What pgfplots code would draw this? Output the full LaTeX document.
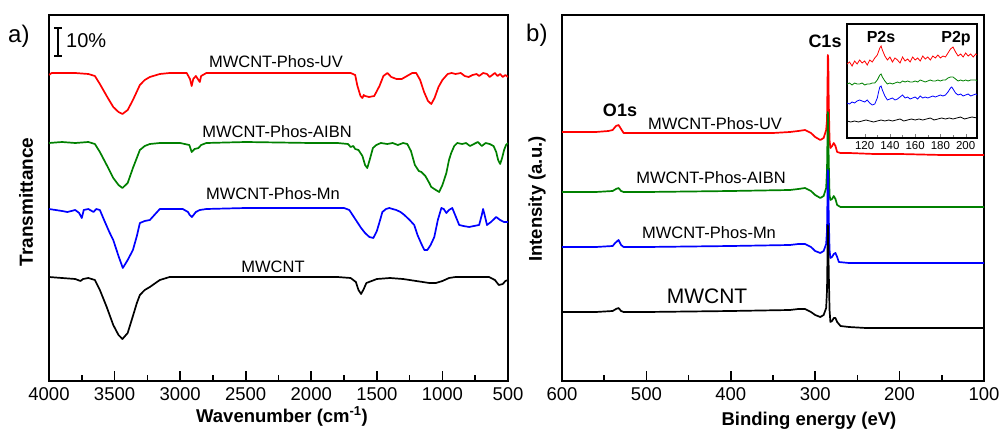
\documentclass[border=0pt]{standalone}
\usepackage{pgfplots}
\pgfplotsset{compat=1.18}
\usepackage{fontspec}
\setmainfont{Liberation Sans}
\definecolor{cred}{RGB}{255,0,0}
\definecolor{cgreen}{RGB}{0,128,0}
\definecolor{cblue}{RGB}{0,0,255}
\newcommand{\fs}[1]{\fontsize{#1bp}{#1bp}\selectfont}
\pgfplotsset{
  panel/.style={
    scale only axis, anchor=south west,
    height=366bp,
    y dir=reverse, ymin=15, ymax=381,
    x dir=reverse,
    ytick=\empty,
    xtick pos=bottom,
    tick align=inside,
    major tick length=10bp, minor tick length=6bp,
    every tick/.style={line width=1.6bp, black},
    axis line style={line width=2.2bp},
    /pgf/number format/assume math mode=true,
    /pgf/number format/set thousands separator={},
    tick label style={font=\fs{18.5}},
    xticklabel style={yshift=-3bp},
    every axis plot/.append style={line width=1.7bp, line join=round},
  },
}
\begin{document}
\begin{tikzpicture}
\path[use as bounding box] (0,0) rectangle (999bp,429bp);
% ---------------- panel a ----------------
\begin{axis}[panel, at={(49bp,48bp)}, width=459bp,
  xmin=500, xmax=4000, xtick={4000,3500,...,500}, minor x tick num=1]
\addplot[cred] coordinates {
(4000,75)(3980,73)(3900,73)(3800,73)(3700,74)(3650,76)(3612,84)(3560,96)(3510,107)(3470,112)(3440,114)(3400,110)(3360,100)(3307,85)(3270,80)(3231,77)(3155,74)(3080,73)(2950,73)(2925,79)(2912,86)(2900,79)(2880,76)(2860,80)(2850,82)(2840,76)(2800,73)(2500,73)(2000,73)(1700,73)(1665,75)(1650,85)(1625,96)(1610,98)(1600,95)(1590,96)(1560,97)(1520,96)(1480,86)(1450,76)(1420,73)(1390,77)(1350,79)(1310,79)(1270,76)(1230,73)(1200,73)(1170,80)(1140,92)(1110,101)(1085,104)(1060,98)(1030,87)(1000,80)(960,74)(930,73)(900,74)(860,73)(830,76)(800,77)(770,75)(740,74)(720,76)(690,73)(660,74)(640,77)(620,75)(600,73)(580,76)(560,74)(540,77)(520,75)(500,77)};
\addplot[cgreen] coordinates {
(4000,143)(3900,142)(3800,143)(3700,142)(3650,144)(3612,152)(3560,165)(3510,178)(3470,185)(3440,188)(3400,183)(3360,168)(3307,150)(3270,146)(3231,144)(3155,143)(3000,143)(2930,145)(2912,152)(2890,149)(2860,148)(2840,145)(2800,143)(2500,142)(2000,143)(1800,143)(1720,144)(1700,147)(1680,146)(1665,149)(1640,150)(1610,156)(1590,165)(1573,168)(1555,160)(1530,148)(1504,145)(1470,143)(1420,144)(1380,143)(1340,145)(1300,143)(1268,144)(1240,151)(1210,165)(1180,171)(1160,172)(1130,176)(1100,183)(1085,187)(1050,190)(1025,192)(1000,185)(970,173)(950,160)(933,153)(910,146)(887,143)(850,144)(820,143)(790,146)(760,144)(730,142)(700,146)(670,143)(640,144)(610,146)(590,152)(575,160)(560,164)(545,158)(530,150)(515,145)(500,143)};
\addplot[cblue] coordinates {
(4000,209)(3950,210)(3900,211)(3860,212)(3800,210)(3770,213)(3750,218)(3735,210)(3700,209)(3660,212)(3640,209)(3612,210)(3580,220)(3540,232)(3510,240)(3470,256)(3437,268)(3400,260)(3360,250)(3330,236)(3307,223)(3270,221)(3231,220)(3155,209)(3050,209)(2980,209)(2940,212)(2927,215)(2910,217)(2880,212)(2850,210)(2800,209)(2500,208)(2000,208)(1750,208)(1710,210)(1680,216)(1650,222)(1620,228)(1590,233)(1557,237)(1527,238)(1500,231)(1475,220)(1458,212)(1430,209)(1405,208)(1380,209)(1352,210)(1320,212)(1290,215)(1250,220)(1215,225)(1190,235)(1160,244)(1138,250)(1115,250)(1090,245)(1062,237)(1035,220)(1008,208)(990,209)(970,213)(950,210)(925,208)(900,216)(872,225)(840,226)(796,227)(760,226)(720,225)(700,215)(690,209)(680,214)(660,225)(630,222)(590,217)(560,220)(530,222)(500,222)};
\addplot[black] coordinates {
(4000,277)(3900,278)(3800,279)(3760,281)(3740,279)(3700,278)(3650,280)(3612,290)(3560,307)(3510,325)(3470,335)(3440,339)(3400,333)(3360,316)(3330,303)(3307,295)(3270,290)(3231,287)(3155,280)(3080,277)(3000,277)(2500,277)(2000,277)(1800,277)(1700,278)(1660,282)(1640,290)(1620,294)(1600,289)(1580,283)(1500,279)(1400,278)(1300,279)(1200,281)(1100,283)(1050,283)(1000,281)(950,278)(900,277)(645,277)(600,280)(570,285)(540,284)(520,281)(500,280)};
\end{axis}
% ---------------- panel b ----------------
\begin{axis}[panel, at={(562bp,48bp)}, width=422bp,
  xmin=100, xmax=600, xtick={600,500,...,100}, minor x tick num=1]
\addplot[cred] coordinates {
(600,132)(580,132)(560,132)(545,131)(540,130)(536,126)(533,125)(530,129)(527,133)(520,133)(500,133)(450,133)(400,133)(350,133)(330,132)(320,131)(312,130)(305,133)(300,137)(294,140)(290,138)(287,130)(286,120)(285.5,90)(285,55)(284.5,60)(284,100)(283,140)(282,148)(280,146)(278,143)(276,146)(274,152)(270,153)(260,153)(230,154)(200,154)(150,155)(100,155)};
\addplot[cgreen] coordinates {
(600,192)(560,192)(540,191)(536,189)(533,188)(530,191)(527,192)(500,192)(400,191)(330,190)(320,189)(312,188)(305,191)(300,195)(294,198)(290,196)(287,188)(286,170)(285.5,140)(285,112)(284.5,120)(284,160)(283,195)(282,200)(280,199)(278,196)(276,199)(274,205)(270,207)(230,207)(100,207)};
\addplot[cblue] coordinates {
(600,247)(560,247)(540,246)(537,243)(533,240)(530,245)(527,247)(500,247)(400,246)(330,245)(320,244)(312,244)(305,247)(300,251)(294,253)(290,251)(287,244)(286,230)(285.5,200)(285,170)(284.5,180)(284,215)(283,250)(282,258)(280,257)(278,254)(276,253)(274,257)(272,262)(260,263)(100,263)};
\addplot[black] coordinates {
(600,312)(560,312)(540,311)(536,309)(533,308)(530,311)(527,312)(500,312)(400,311)(330,310)(320,309)(312,309)(305,312)(300,315)(294,317)(290,315)(287,308)(286,290)(285.5,260)(285,225)(284.5,235)(284,270)(283,310)(282,322)(280,321)(278,318)(276,318)(274,322)(270,326)(260,327)(240,328)(100,328)};
\end{axis}
% ---------------- inset ----------------
\begin{axis}[scale only axis, anchor=south west, at={(847bp,291bp)},
  width=130bp, height=114bp, xmin=106, xmax=209,
  y dir=reverse, ymin=24, ymax=138, ytick=\empty,
  xtick={120,140,...,200}, minor x tick num=1, xtick pos=bottom, tick align=inside,
  major tick length=4bp, minor tick length=3bp,
  axis line style={line width=1.1bp},
  /pgf/number format/assume math mode=true,
  tick label style={font=\fs{11.5}},
  every axis plot/.append style={line width=0.8bp}]
\addplot[cred] coordinates {
(106,64)(108,62)(110,66)(112,61)(114,64)(116,60)(118,63)(120,61)(122,65)(124,60)(126,62)(128,58)(130,55)(132,48)(133,46)(134,50)(136,56)(138,60)(140,57)(142,62)(144,58)(146,60)(148,63)(150,57)(152,61)(154,59)(156,62)(158,57)(160,60)(162,58)(164,61)(166,56)(168,59)(170,57)(172,60)(174,56)(176,58)(178,55)(180,58)(182,56)(184,57)(186,53)(188,49)(190,47)(192,52)(194,56)(196,54)(198,57)(200,53)(202,56)(204,54)(206,57)(208,54)(209,55)};
\addplot[cgreen] coordinates {
(106,84)(108,83)(110,85)(112,83)(114,84)(116,84)(118,83)(120,85)(122,84)(124,84)(126,83)(128,83)(130,80)(132,75)(133,74)(134,77)(136,81)(138,84)(140,83)(142,84)(144,83)(146,82)(148,83)(150,81)(152,82)(154,81)(156,82)(158,82)(160,81)(162,82)(164,80)(166,81)(168,82)(170,81)(172,80)(174,81)(176,81)(178,80)(180,81)(182,80)(184,80)(186,78)(188,77)(190,77)(192,79)(194,81)(196,80)(198,81)(200,80)(202,81)(204,80)(206,80)(208,80)(209,81)};
\addplot[cblue] coordinates {
(106,103)(108,104)(110,102)(112,103)(114,101)(116,100)(118,101)(120,102)(122,100)(124,103)(126,105)(128,104)(130,98)(131,92)(132,87)(133,86)(134,90)(136,96)(138,100)(140,99)(142,98)(144,100)(146,99)(148,97)(150,95)(152,98)(154,97)(156,99)(158,98)(160,97)(162,99)(164,96)(166,98)(168,97)(170,98)(172,97)(174,96)(176,97)(178,96)(180,95)(182,96)(184,95)(186,92)(188,88)(189,87)(190,89)(192,93)(194,95)(196,94)(198,96)(200,95)(202,94)(204,96)(206,95)(208,94)(209,95)};
\addplot[black] coordinates {
(106,121)(109,122)(112,121)(115,122)(118,121)(121,120)(124,121)(127,122)(130,121)(133,120)(136,121)(139,120)(142,121)(145,120)(148,119)(151,121)(154,120)(157,119)(160,120)(163,119)(166,120)(169,119)(172,118)(175,120)(178,119)(181,118)(184,119)(187,118)(190,119)(193,118)(196,117)(199,119)(202,118)(205,117)(209,118)};
\end{axis}
% ---------------- texts ----------------
\node[anchor=base west, inner sep=0] at (8bp,386bp) {\fs{24}a)};
\node[anchor=base west, inner sep=0] at (526bp,387bp) {\fs{24}b)};
\draw[line width=1.4bp] (58bp,401bp) -- (58bp,373bp);
\draw[line width=1.4bp] (54bp,401bp) -- (62bp,401bp);
\draw[line width=1.4bp] (54bp,373bp) -- (62bp,373bp);
\node[anchor=base west, inner sep=0] at (66bp,381bp) {\fs{20}10\%};
\node[anchor=base, inner sep=0] at (276bp,361bp) {\fs{16.5}MWCNT-Phos-UV};
\node[anchor=base, inner sep=0] at (277bp,291bp) {\fs{16.5}MWCNT-Phos-AIBN};
\node[anchor=base, inner sep=0] at (273bp,229bp) {\fs{16.5}MWCNT-Phos-Mn};
\node[anchor=base, inner sep=0] at (273bp,156bp) {\fs{16.5}MWCNT};
\node[anchor=base, inner sep=0] at (715bp,299bp) {\fs{16.5}MWCNT-Phos-UV};
\node[anchor=base, inner sep=0] at (711bp,245bp) {\fs{16.5}MWCNT-Phos-AIBN};
\node[anchor=base, inner sep=0] at (709bp,190bp) {\fs{16.5}MWCNT-Phos-Mn};
\node[anchor=base, inner sep=0] at (707bp,125bp) {\fs{21}MWCNT};
\node[anchor=base, inner sep=0] at (620bp,312bp) {\fs{18}\bfseries O1s};
\node[anchor=base, inner sep=0] at (825bp,381bp) {\fs{18}\bfseries C1s};
\node[anchor=base, inner sep=0] at (881bp,386bp) {\fs{16}\bfseries P2s};
\node[anchor=base, inner sep=0] at (956bp,386bp) {\fs{16}\bfseries P2p};
\node[rotate=90, inner sep=0] at (26bp,227bp) {\fs{19}\bfseries Transmittance};
\node[rotate=90, inner sep=0] at (537bp,230bp) {\fs{18.5}\bfseries Intensity (a.u.)};
\node[anchor=base, inner sep=0] at (282bp,7bp) {\fs{18.5}\bfseries Wavenumber (cm\textsuperscript{-1})};
\node[anchor=base, inner sep=0] at (809bp,4bp) {\fs{18.5}\bfseries Binding energy (eV)};
\end{tikzpicture}
\end{document}
